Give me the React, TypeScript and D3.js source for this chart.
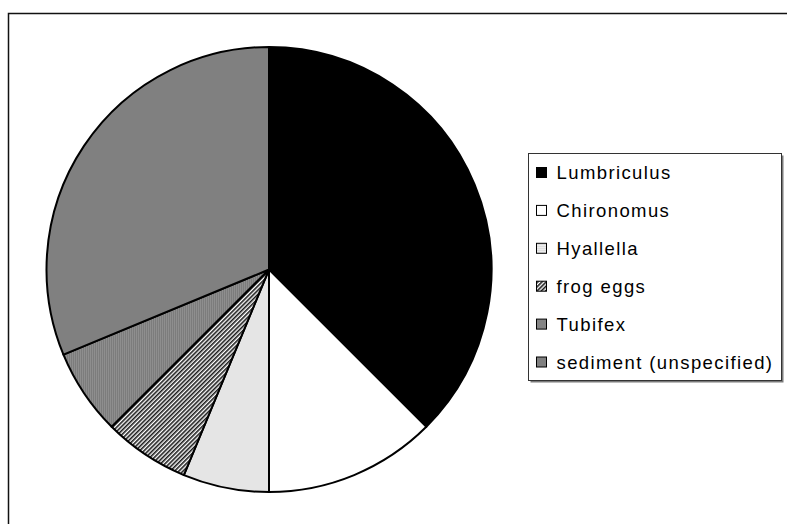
import React from "react";
import * as d3 from "d3";

// Diet composition (number of observations per food item)
const categories = [
  "Lumbriculus",
  "Chironomus",
  "Hyallella",
  "frog eggs",
  "Tubifex",
  "sediment (unspecified)",
];
const counts = [6, 2, 1, 1, 1, 5];
const fills = [
  "#000000",
  "#ffffff",
  "url(#hatchH)",
  "url(#hatchD)",
  "url(#dotsT)",
  "#808080",
];

const W = 787;
const H = 524;
const cx = 269;
const cy = 269.5;
const R = 222.5;

type Item = { name: string; value: number; fill: string };

export default function App() {
  const data: Item[] = categories.map((c, i) => ({ name: c, value: counts[i], fill: fills[i] }));
  const pie = d3
    .pie<Item>()
    .sort(null)
    .value((d) => d.value);
  const arcs = pie(data);
  const arc = d3.arc<d3.PieArcDatum<Item>>().innerRadius(0).outerRadius(R);

  const legendX = 528.5;
  const legendY = 153.5;
  const legendW = 253;
  const legendH = 227;
  const rowY = d3.scaleLinear().domain([0, 5]).range([172.5, 362]);

  return (
    <svg
      width={W}
      height={H}
      style={{ position: "absolute", left: 0, top: 0, background: "#fff" }}
      fontFamily="'Liberation Sans', Arial, sans-serif"
    >
      <defs>
        <pattern id="hatchH" width="4" height="2" patternUnits="userSpaceOnUse">
          <rect width="4" height="2" fill="#f6f6f6" />
          <rect y="0" width="4" height="1" fill="#d4d4d4" />
        </pattern>
        <pattern
          id="hatchD"
          width="3"
          height="3"
          patternUnits="userSpaceOnUse"
          patternTransform="rotate(-45)"
        >
          <rect width="3" height="3" fill="#ffffff" />
          <rect width="3" height="1.6" fill="#1a1a1a" />
        </pattern>
        <pattern id="dotsT" width="2" height="2" patternUnits="userSpaceOnUse">
          <rect width="2" height="2" fill="#8e8e8e" />
          <rect width="1" height="2" fill="#7c7c7c" />
        </pattern>
      </defs>

      {/* outer chart frame */}
      <rect x={8.5} y={13.5} width={800} height={540} fill="#fff" stroke="#111" strokeWidth={1.5} />

      <g transform={`translate(${cx},${cy})`}>
        {arcs.map((a, i) => (
          <path
            key={i}
            d={arc(a) ?? ""}
            fill={a.data.fill}
            stroke="#000"
            strokeWidth={2}
            strokeLinejoin="round"
          />
        ))}
      </g>

      {/* legend with drop shadow */}
      <rect x={legendX + 2} y={legendY + 2} width={legendW} height={legendH} fill="#7a7a7a" />
      <rect
        x={legendX}
        y={legendY}
        width={legendW}
        height={legendH}
        fill="#fff"
        stroke="#333"
        strokeWidth={1}
      />
      {data.map((d, i) => (
        <g key={d.name} transform={`translate(${legendX + 8},${rowY(i)})`}>
          <rect x={0} y={-5} width={10} height={10} fill={d.fill} stroke="#000" strokeWidth={1} />
          <text
            x={20}
            y={0}
            dy="0.36em"
            fontSize={18.5}
            letterSpacing={1.4}
            fill="#000"
          >
            {d.name}
          </text>
        </g>
      ))}
    </svg>
  );
}
